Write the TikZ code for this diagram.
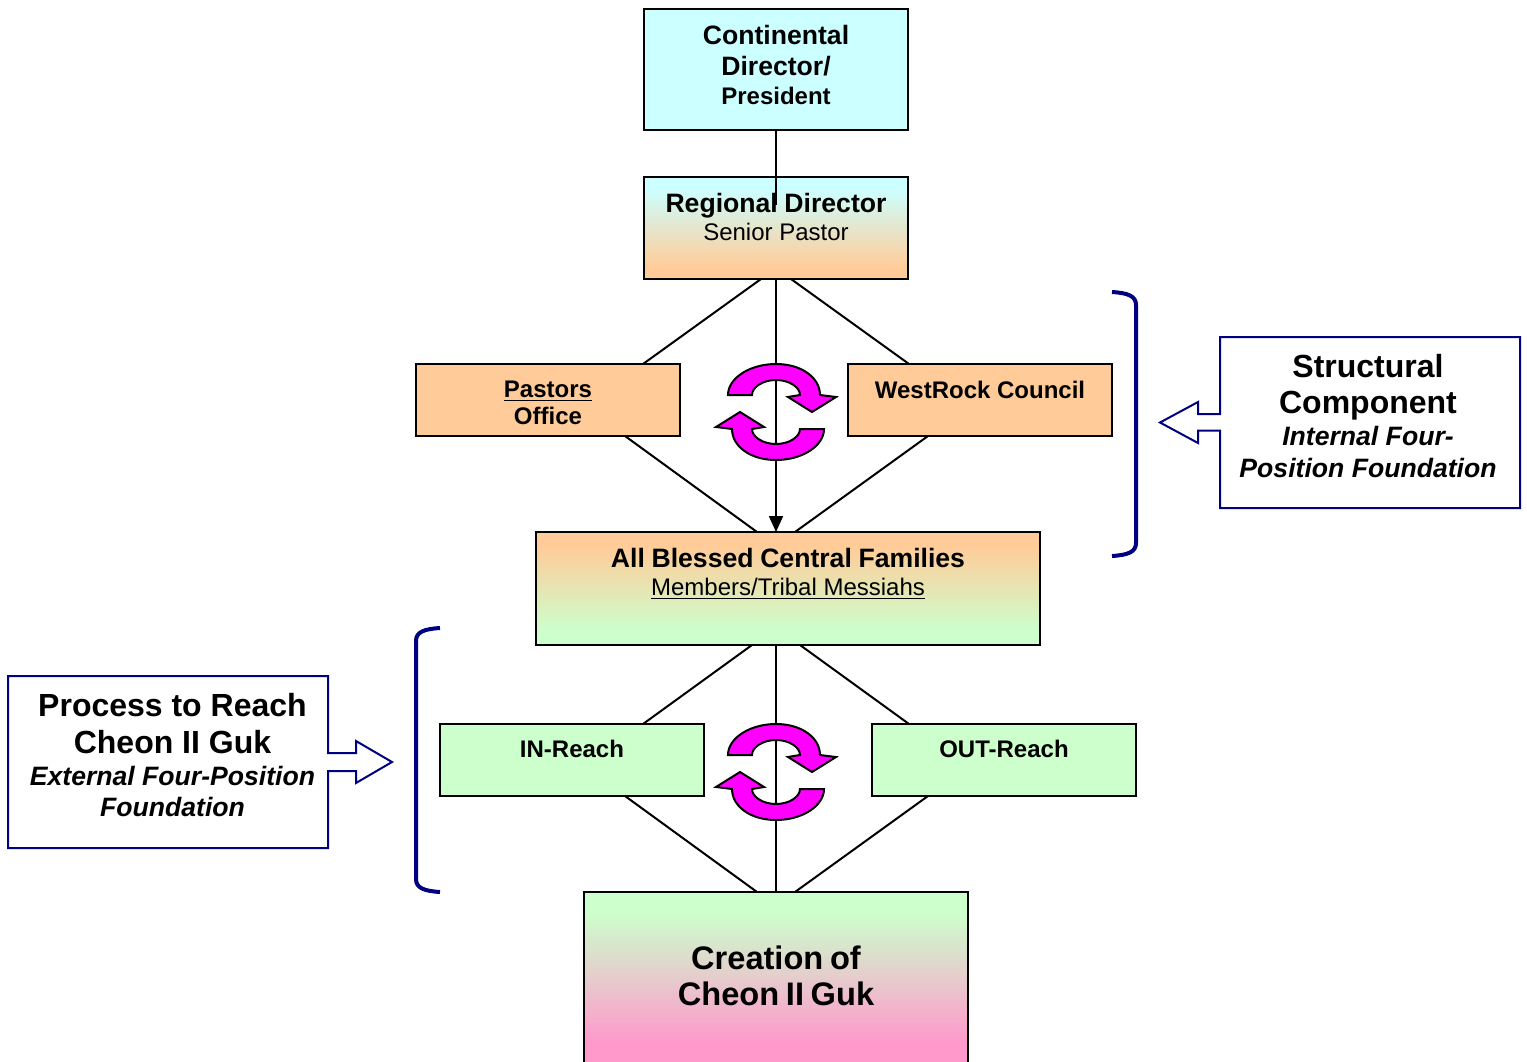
\documentclass[tikz,border=0pt]{standalone}
\usepackage{fontspec}
\setmainfont{Liberation Sans}
\usetikzlibrary{calc}
\usetikzlibrary{arrows.meta}
\definecolor{paleblue}{HTML}{CCFFFF}
\definecolor{tan}{HTML}{FFCC99}
\definecolor{palegreen}{HTML}{CCFFCC}
\definecolor{rosepink}{HTML}{FF99CC}
\definecolor{swirlpink}{HTML}{FF00FF}
\definecolor{darknavy}{HTML}{000080}
\newcommand{\fsmall}{\fontsize{12}{14.5}\selectfont}
\newcommand{\fmid}{\fontsize{13.3}{15.5}\selectfont}
\newcommand{\fbig}{\fontsize{16}{18}\selectfont}
\pgfdeclareverticalshading{bluetan}{100bp}{color(0bp)=(tan); color(31bp)=(tan); color(69bp)=(paleblue); color(100bp)=(paleblue)}
\pgfdeclareverticalshading{tangreen}{100bp}{color(0bp)=(palegreen); color(31bp)=(palegreen); color(69bp)=(tan); color(100bp)=(tan)}
\pgfdeclareverticalshading{greenpink}{100bp}{color(0bp)=(rosepink); color(31bp)=(rosepink); color(69bp)=(palegreen); color(100bp)=(palegreen)}
\tikzset{
	orgbox/.style n args={3}{draw=black,line width=1pt,anchor=north west,inner sep=0pt,outer sep=0pt,align=center,
		text width=#1*.5pt,minimum width=#1*.5pt,text height=#2*.5pt,text depth=#3*.5pt},
	link/.style={draw=black,line width=1pt},
	brace/.style={draw=darknavy,line width=2pt},
	callout/.style={draw=darknavy,line width=1pt,line join=miter,fill=white},
	swirl/.pic={
		\draw[black,line width=1pt,fill=swirlpink,line join=miter]
			(-48,-17) .. controls (-48,-34) and (-26,-48) .. (0,-48)
			.. controls (26,-48) and (44,-34) .. (44,-17) -- (60,-15) -- (36,0) -- (12,-15) -- (24,-17)
			.. controls (24,-25) and (13,-32) .. (0,-32) .. controls (-13,-32) and (-24,-25) .. (-24,-17) -- cycle;
	},
}
\begin{document}
\begin{tikzpicture}[x=.5pt,y=-.5pt]
	\useasboundingbox (0,0) rectangle (1527,1061);
	\node[orgbox={264}{35}{86},fill=paleblue] (continental) at (644,9) {\fmid\bfseries Continental\\\fmid\bfseries Director/\\[2.7pt]\fsmall\bfseries President};
	\node[orgbox={264}{35}{67},shade,shading=bluetan] (regional) at (644,177) {\fmid\bfseries Regional Director\\[2pt]\fsmall\normalfont Senior Pastor};
	\node[orgbox={264}{33}{39},fill=tan] (pastors) at (416,364) {\fsmall\bfseries\underline{Pastors}\\[1.5pt]\fsmall\bfseries Office};
	\node[orgbox={264}{34}{38},fill=tan] (council) at (848,364) {\fsmall\bfseries WestRock Council};
	\node[orgbox={504}{35}{78},shade,shading=tangreen] (families) at (536,532) {\fmid\bfseries All Blessed Central Families\\[2pt]\fsmall\normalfont\underline{Members/Tribal Messiahs}};
	\node[orgbox={264}{33}{39},fill=palegreen] (inreach) at (440,724) {\fsmall\bfseries IN-Reach};
	\node[orgbox={264}{33}{39},fill=palegreen] (outreach) at (872,724) {\fsmall\bfseries OUT-Reach};
	\node[orgbox={384}{77}{94},shade,shading=greenpink] (creation) at (584,892) {\fontsize{16.3}{18}\selectfont\bfseries Creation of\\[6pt]\fontsize{16.3}{18}\selectfont\bfseries Cheon II Guk};
	% connectors
	\draw[link] (continental.south) -- ($(regional.north)+(0,28)$);
	\draw[link] ($(regional.south)+(-15,0)$) -- ($(pastors.north west)+(227,0)$);
	\draw[link] ($(regional.south)+(15,0)$) -- ($(council.north west)+(61,0)$);
	\draw[link,-{Stealth[length=8pt,width=7pt,inset=0pt]}] (regional.south) -- ($(families.north west)+(240,0)$);
	\draw[link] ($(pastors.south west)+(209,0)$) -- ($(families.north west)+(221,0)$);
	\draw[link] ($(council.south west)+(80,0)$) -- ($(families.north west)+(259,0)$);
	\draw[link] ($(families.south west)+(216,0)$) -- ($(inreach.north west)+(203,0)$);
	\draw[link] ($(families.south west)+(264,0)$) -- ($(outreach.north west)+(37,0)$);
	\draw[link] ($(families.south west)+(240,0)$) -- (creation.north);
	\draw[link] ($(inreach.south west)+(185,0)$) -- ($(creation.north west)+(173,0)$);
	\draw[link] ($(outreach.south west)+(56,0)$) -- ($(creation.north west)+(211,0)$);
	% turning arrows
	\pic at (776,412) {swirl};
	\pic[rotate=180] at (776,412) {swirl};
	\pic at (776,772) {swirl};
	\pic[rotate=180] at (776,772) {swirl};
	% brackets
	\draw[brace] (1112,292) .. controls (1128,293) and (1136,296) .. (1136,305) -- (1136,543) .. controls (1136,552) and (1128,555) .. (1112,556);
	\draw[brace] (440,628) .. controls (424,629) and (416,632) .. (416,641) -- (416,879) .. controls (416,888) and (424,891) .. (440,892);
	% callouts
	\draw[callout] (1220,337) -- (1520,337) -- (1520,508) -- (1220,508) -- (1220,430.5) -- (1198,430.5) -- (1198,443) -- (1160,422.5) -- (1198,402) -- (1198,414) -- (1220,414) -- cycle;
	\node[align=center,inner sep=0pt] (structural) at (1368,416) {\fbig\bfseries Structural\\[6pt]\fbig\bfseries Component\\[2.5pt]\fmid\bfseries\itshape Internal Four-\\[4pt]\fmid\bfseries\itshape Position Foundation};
	\draw[callout] (8,676) -- (328,676) -- (328,753) -- (356,753) -- (356,741) -- (392,762) -- (356,783) -- (356,771) -- (328,771) -- (328,848) -- (8,848) -- cycle;
	\node[align=center,inner sep=0pt] (process) at (172.5,755) {\fbig\bfseries Process to Reach\\[6.5pt]\fbig\bfseries Cheon II Guk\\[4pt]\fmid\bfseries\itshape External Four-Position\\[3.5pt]\fmid\bfseries\itshape Foundation};
\end{tikzpicture}
\end{document}
